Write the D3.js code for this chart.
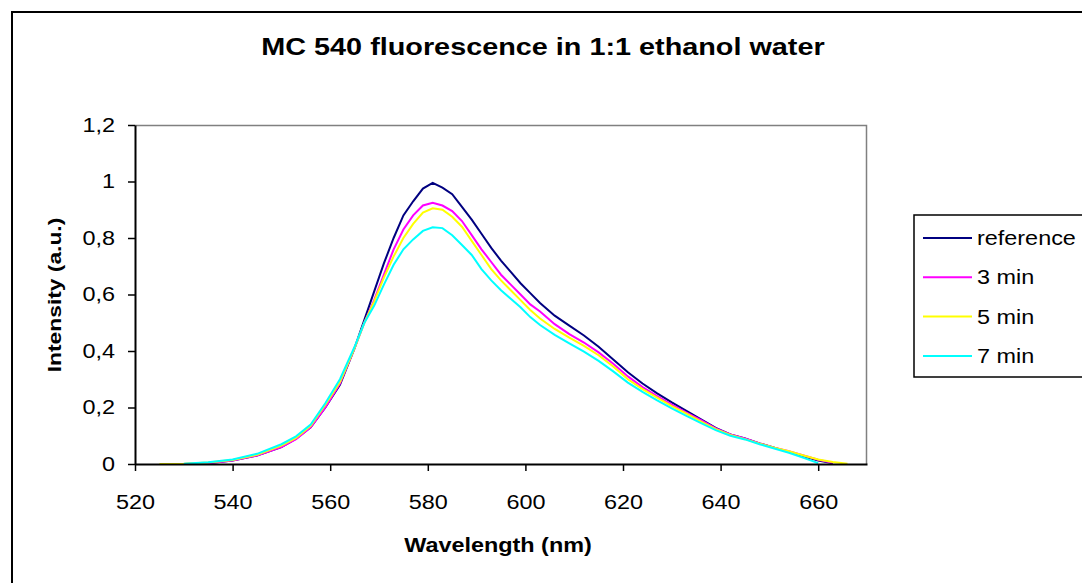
<!DOCTYPE html>
<html>
<head>
<meta charset="utf-8">
<script src="https://cdn.jsdelivr.net/npm/d3@7"></script>
<style>
  body { margin: 0; background: #fff; }
  text { font-family: Arial, "Liberation Sans", sans-serif; fill: #000; }
</style>
</head>
<body>
<div class="chart"></div>
<script>
// MC 540 fluorescence spectra

var svgWidth = 1082;
var svgHeight = 583;

var margin = { top: 125, right: 215, bottom: 119, left: 135 };
var width = 867 - margin.left;
var height = 464 - margin.top;

// wavelength grid (nm), null = no data
var wavelengths = [525, 530, 535, 540, 545, 550, 553, 556, 559, 562, 565, 567, 569, 571, 573, 575, 577, 579, 581, 583,
  585, 587, 589, 591, 593, 595, 597, 599, 601, 603, 606, 609, 612, 615, 618, 621, 624, 627, 630, 633,
  636, 639, 642, 645, 648, 651, 654, 657, 660, 663, 666];

var reference = [null, 0.0, 0.003, 0.012, 0.03, 0.06, 0.09, 0.13, 0.2, 0.28, 0.41, 0.51, 0.61, 0.71, 0.8, 0.88, 0.93, 0.975, 0.995, 0.978,
  0.955, 0.91, 0.865, 0.815, 0.765, 0.72, 0.68, 0.64, 0.605, 0.57, 0.525, 0.49, 0.455, 0.415, 0.37, 0.325, 0.285, 0.25, 0.218, 0.188,
  0.158, 0.128, 0.105, 0.09, 0.073, 0.058, 0.042, 0.027, 0.012, 0.003, null];

var min3 = [null, 0.0, 0.003, 0.012, 0.03, 0.06, 0.088, 0.13, 0.2, 0.285, 0.41, 0.5, 0.58, 0.67, 0.76, 0.83, 0.88, 0.915, 0.925, 0.915,
  0.895, 0.86, 0.81, 0.76, 0.715, 0.67, 0.635, 0.6, 0.565, 0.54, 0.495, 0.46, 0.43, 0.395, 0.355, 0.31, 0.272, 0.24, 0.21, 0.182,
  0.155, 0.126, 0.105, 0.09, 0.073, 0.058, 0.045, 0.03, 0.015, 0.004, null];

var min5 = [0.0, 0.001, 0.005, 0.014, 0.033, 0.065, 0.092, 0.135, 0.21, 0.29, 0.41, 0.5, 0.575, 0.66, 0.735, 0.8, 0.85, 0.89, 0.905, 0.9,
  0.875, 0.84, 0.79, 0.74, 0.69, 0.65, 0.615, 0.58, 0.545, 0.515, 0.478, 0.447, 0.418, 0.385, 0.345, 0.3, 0.265, 0.235, 0.205, 0.178,
  0.15, 0.123, 0.103, 0.088, 0.072, 0.058, 0.045, 0.03, 0.016, 0.007, 0.001];

var min7 = [null, 0.001, 0.006, 0.016, 0.036, 0.07, 0.098, 0.14, 0.215, 0.3, 0.415, 0.5, 0.56, 0.635, 0.705, 0.76, 0.795, 0.825, 0.838, 0.835,
  0.81, 0.775, 0.74, 0.69, 0.65, 0.615, 0.585, 0.555, 0.52, 0.492, 0.457, 0.427, 0.398, 0.365, 0.328, 0.288, 0.255, 0.225, 0.197, 0.17,
  0.145, 0.12, 0.1, 0.087, 0.07, 0.055, 0.04, 0.022, 0.003, null, null];

var seriesNames = ["reference", "3 min", "5 min", "7 min"];
var seriesColors = ["#000080", "#ff00ff", "#ffff00", "#00ffff"];
var seriesValues = [reference, min3, min5, min7];

var xTicks = [520, 540, 560, 580, 600, 620, 640, 660];
var yTicks = [0, 0.2, 0.4, 0.6, 0.8, 1, 1.2];

// bitmap font in the source is wider than Arial, so stretch along the text
var stretch = 1.2;
function widen(sel) {
  sel.each(function() {
    var w = this.getComputedTextLength();
    d3.select(this).attr("textLength", w * stretch).attr("lengthAdjust", "spacingAndGlyphs");
  });
}

var svg = d3.select(".chart")
  .append("svg")
  .attr("width", svgWidth)
  .attr("height", svgHeight);

// chart area border
svg.append("rect")
  .attr("x", 12).attr("y", 12)
  .attr("width", svgWidth + 20).attr("height", svgHeight + 20)
  .attr("fill", "#fff")
  .attr("stroke", "#000")
  .attr("stroke-width", 2);

var chartGroup = svg.append("g")
  .attr("transform", `translate(${margin.left}, ${margin.top})`);

var xScale = d3.scaleLinear().domain([520, 670]).range([0, width]);
var yScale = d3.scaleLinear().domain([0, 1.2]).range([height, 0]);

// plot frame (grey top/right)
chartGroup.append("path")
  .attr("d", `M0,0.5H${width - 0.5}V${height}`)
  .attr("fill", "none")
  .attr("stroke", "#808080")
  .attr("stroke-width", 1.5);

// lines
var line = d3.line()
  .defined(d => d.v !== null)
  .x(d => xScale(d.w))
  .y(d => yScale(d.v));

seriesValues.forEach(function(vals, i) {
  var pts = wavelengths.map((w, j) => ({ w: w, v: vals[j] }));
  chartGroup.append("path")
    .datum(pts)
    .attr("fill", "none")
    .attr("stroke", seriesColors[i])
    .attr("stroke-width", 2)
    .attr("d", line);
});

// axes
var fmt = d => String(+d.toFixed(1)).replace(".", ",");

var xAxis = chartGroup.append("g")
  .attr("transform", `translate(0, ${height})`)
  .call(d3.axisBottom(xScale).tickValues(xTicks).tickSize(7).tickSizeOuter(0).tickPadding(24));

var yAxis = chartGroup.append("g")
  .call(d3.axisLeft(yScale).tickValues(yTicks).tickFormat(fmt).tickSize(7).tickSizeOuter(0).tickPadding(13));

[xAxis, yAxis].forEach(function(ax) {
  ax.select(".domain").attr("stroke", "#000").attr("stroke-width", 2);
  ax.selectAll(".tick line").attr("stroke", "#000").attr("stroke-width", 1.5);
  ax.selectAll(".tick text")
    .style("font-family", "Arial, 'Liberation Sans', sans-serif")
    .style("font-size", "19.5px")
    .attr("fill", "#000")
    .call(widen);
});

// title
svg.append("text")
  .attr("x", 543)
  .attr("y", 55)
  .attr("text-anchor", "middle")
  .style("font-size", "24px")
  .style("font-weight", "bold")
  .text("MC 540 fluorescence in 1:1  ethanol water")
  .call(widen);

// axis labels
svg.append("text")
  .attr("transform", "translate(61, 295) rotate(-90)")
  .attr("text-anchor", "middle")
  .style("font-size", "19px")
  .style("font-weight", "bold")
  .text("Intensity (a.u.)")
  .call(widen);

svg.append("text")
  .attr("x", 498)
  .attr("y", 552)
  .attr("text-anchor", "middle")
  .style("font-size", "19.5px")
  .style("font-weight", "bold")
  .text("Wavelength (nm)")
  .call(widen);

// legend
var legend = svg.append("g").attr("transform", "translate(914, 215)");

legend.append("rect")
  .attr("x", 0).attr("y", 0)
  .attr("width", 200).attr("height", 162)
  .attr("fill", "#fff")
  .attr("stroke", "#000")
  .attr("stroke-width", 1.5);

var rows = legend.selectAll(".row")
  .data(seriesNames)
  .enter()
  .append("g")
  .attr("transform", (d, i) => `translate(0, ${23 + i * 39.3})`);

rows.append("line")
  .attr("x1", 9).attr("x2", 58)
  .attr("stroke", (d, i) => seriesColors[i])
  .attr("stroke-width", 2);

rows.append("text")
  .attr("x", 63)
  .attr("dy", "0.36em")
  .style("font-size", "19.5px")
  .text(d => d)
  .call(widen);
</script>
</body>
</html>
